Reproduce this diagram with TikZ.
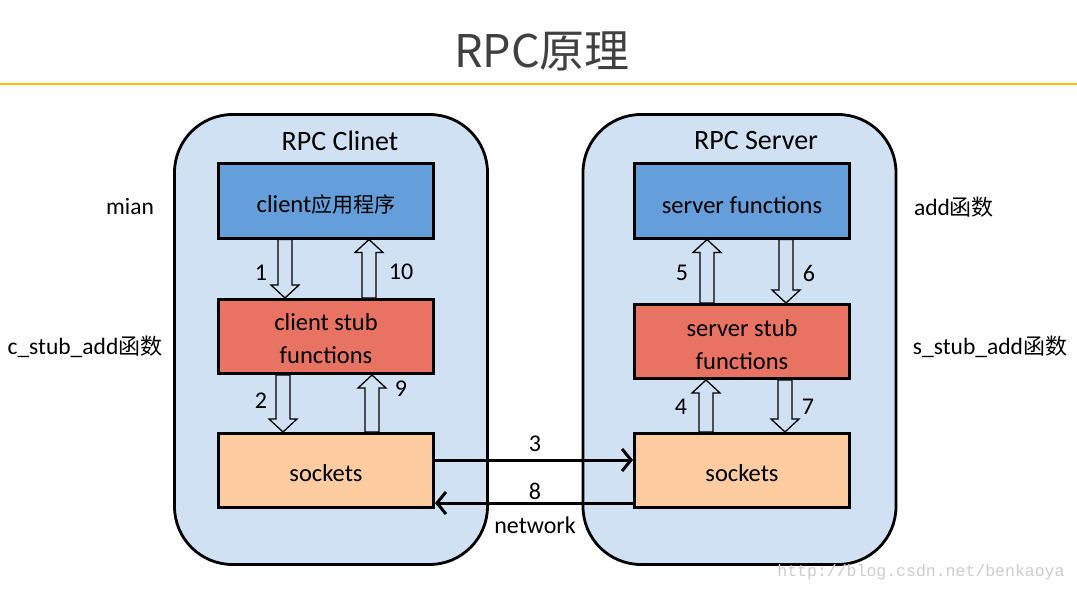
\documentclass[tikz,border=0pt]{standalone}
\usepackage{fontspec}
\setmainfont{Carlito}
\newfontfamily\cjkfam{Noto Sans CJK SC}
\newcommand\cjk[2]{{\cjkfam\fontsize{#1}{#1}\selectfont #2}}
\newfontfamily\wmfont{Liberation Mono}
\usetikzlibrary{arrows.meta,calc}
\definecolor{outerfill}{RGB}{207,225,242}
\definecolor{appblue}{RGB}{101,159,219}
\definecolor{stubred}{RGB}{232,115,98}
\definecolor{sockpeach}{RGB}{252,203,160}
\definecolor{titlegray}{RGB}{64,64,64}
\definecolor{ruleyellow}{RGB}{255,192,0}
\definecolor{wmgray}{RGB}{205,205,205}
\tikzset{
  outerbox/.style={draw=black, line width=2.8pt, fill=outerfill, rounded corners=58pt,
    minimum width=313pt, minimum height=450pt, inner sep=0pt},
  innerbox/.style={draw=black, line width=3pt, minimum width=215pt, minimum height=74pt,
    inner sep=0pt},
  boxtext/.style={inner sep=0pt, align=center, font=\fontsize{24.5}{33}\selectfont},
  harrow/.style={draw=black, line width=1.3pt, fill=outerfill, line join=miter},
  numlabel/.style={font=\fontsize{24}{28}\selectfont, inner sep=0pt},
  sidelabel/.style={font=\fontsize{23.5}{28}\selectfont, inner sep=0pt},
  netline/.style={line width=3pt, -{Straight Barb[length=9pt,width=22pt,line width=3pt]}},
}
\newcommand\hdown[3]{%
  \draw[harrow] let \p1=(#2.south), \p2=(#3.north) in
    (#1pt-7pt,\y1) -- (#1pt+7pt,\y1) -- (#1pt+7pt,\y2+13pt) -- (#1pt+14pt,\y2+13pt)
    -- (#1pt,\y2) -- (#1pt-14pt,\y2+13pt) -- (#1pt-7pt,\y2+13pt) -- cycle;}
\newcommand\hup[3]{%
  \draw[harrow] let \p1=(#2.north), \p2=(#3.south) in
    (#1pt-7pt,\y1) -- (#1pt+7pt,\y1) -- (#1pt+7pt,\y2-13pt) -- (#1pt+14pt,\y2-13pt)
    -- (#1pt,\y2) -- (#1pt-14pt,\y2-13pt) -- (#1pt-7pt,\y2-13pt) -- cycle;}
\begin{document}
\begin{tikzpicture}[x=1pt,y=-1pt]
\useasboundingbox (0,0) rectangle (1077,591);
\fill[white] (0,0) rectangle (1077,591);
% title
\node[font=\cjkfam\fontsize{45}{50}\selectfont, text=titlegray, inner sep=0pt] (title) at (542,51) {RPC原理};
\draw[ruleyellow, line width=1.5pt] (0,84) -- (1077,84);
% outer containers
\node[outerbox] (client) at (331,339.5) {};
\node[outerbox] (server) at (739.5,339.5) {};
\node[font=\fontsize{28}{32}\selectfont, inner sep=0pt] (clientlbl) at (340,141) {RPC Clinet};
\node[font=\fontsize{28}{32}\selectfont, inner sep=0pt] (serverlbl) at (756,141) {RPC Server};
% inner boxes
\node[innerbox, fill=appblue] (capp) at (326,201) {};
\node[innerbox, fill=stubred] (cstub) at (326,336.5) {};
\node[innerbox, fill=sockpeach] (csock) at (326,470.5) {};
\node[innerbox, fill=appblue] (sfun) at (742,201) {};
\node[innerbox, fill=stubred] (sstub) at (742,341.5) {};
\node[innerbox, fill=sockpeach] (ssock) at (742,470.5) {};
\node[boxtext] (cappt) at ($(capp.center)+(0,4)$) {client\cjk{21}{应用程序}};
\node[boxtext] (cstubt) at ($(cstub.center)+(0,2.5)$) {client stub\\functions};
\node[boxtext] (csockt) at ($(csock.center)+(0,3)$) {sockets};
\node[boxtext] (sfunt) at ($(sfun.center)+(0,4)$) {server functions};
\node[boxtext] (sstubt) at ($(sstub.center)+(0,3.5)$) {server stub\\functions};
\node[boxtext] (ssockt) at ($(ssock.center)+(0,3)$) {sockets};
% hollow arrows
\hdown{285}{capp}{cstub}
\hup{369}{cstub}{capp}
\hdown{283}{cstub}{csock}
\hup{372}{csock}{cstub}
\hup{707}{sstub}{sfun}
\hdown{786}{sfun}{sstub}
\hup{706}{ssock}{sstub}
\hdown{785}{sstub}{ssock}
% numbers
\node[numlabel] (n1) at (261,273) {1};
\node[numlabel] (n10) at (401,272) {10};
\node[numlabel] (n2) at (261,401) {2};
\node[numlabel] (n9) at (401,389) {9};
\node[numlabel] (n5) at (682,273) {5};
\node[numlabel] (n6) at (809,273) {6};
\node[numlabel] (n4) at (681,407) {4};
\node[numlabel] (n7) at (808,407) {7};
% network lines
\draw[netline] (csock.east |- 0,460) -- (ssock.west |- 0,460);
\draw[netline] (ssock.west |- 0,503) -- (csock.east |- 0,503);
\node[numlabel] (n3) at (535,444) {3};
\node[numlabel] (n8) at (535,491) {8};
\node[numlabel] (net) at (535,525) {network};
% side labels
\node[sidelabel] (mian) at (130,207) {mian};
\node[sidelabel] (cstubadd) at (85,347) {c\_stub\_add\cjk{22}{函数}};
\node[sidelabel] (add) at (954,207) {add\cjk{22}{函数}};
\node[sidelabel] (sstubadd) at (990,347) {s\_stub\_add\cjk{22}{函数}};
% watermark
\node[font=\wmfont\fontsize{16.5}{18}\selectfont, text=wmgray, inner sep=0pt] (wm) at (921,572) {http://blog.csdn.net/benkaoya};
\end{tikzpicture}
\end{document}
